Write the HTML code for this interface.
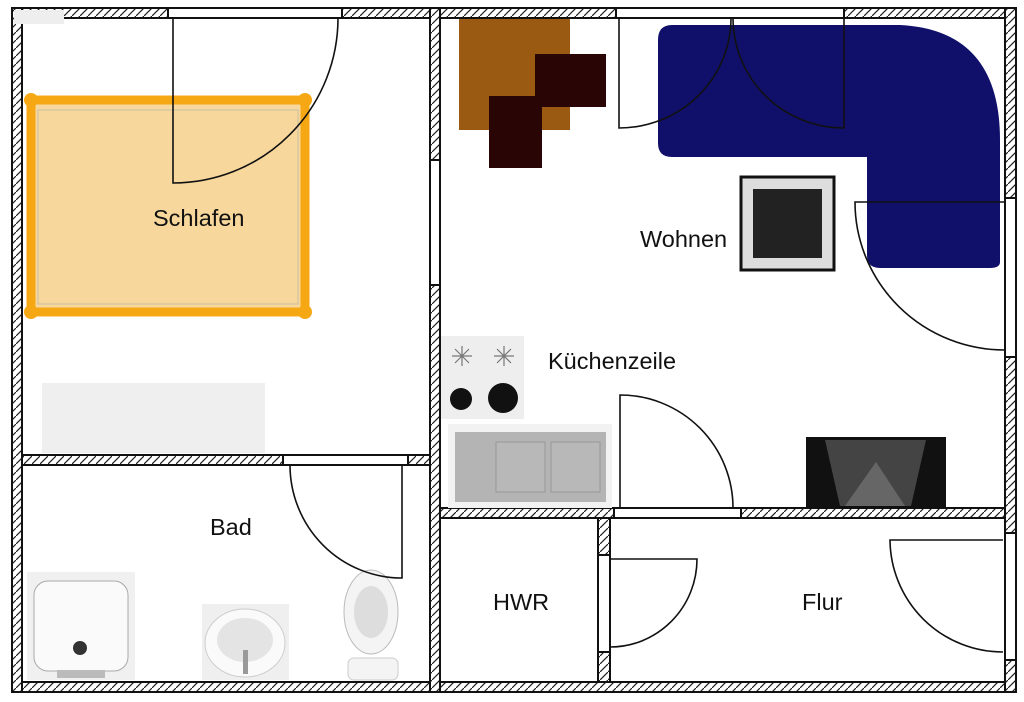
<!DOCTYPE html>
<html><head><meta charset="utf-8"><style>
html,body{margin:0;padding:0;background:#fff;width:1024px;height:702px;overflow:hidden}
svg{display:block}
text{font-family:"Liberation Sans",sans-serif;font-size:23.5px;fill:#111}
</style></head><body>
<svg width="1024" height="702" viewBox="0 0 1024 702">
<defs>
<pattern id="h" width="8" height="8" patternUnits="userSpaceOnUse">
<rect width="8" height="8" fill="#fff"/>
<line x1="0" y1="8" x2="8" y2="0" stroke="#222" stroke-width="1.2"/>
</pattern>
</defs>
<g stroke="#111" stroke-width="2" fill="url(#h)">
<rect x="12" y="8" width="1004" height="10"/>
<rect x="12" y="682" width="1004" height="10"/>
<rect x="12" y="8" width="10" height="684"/>
<rect x="1005" y="8" width="11" height="190"/>
<rect x="1005" y="357" width="11" height="176"/>
<rect x="1005" y="660" width="11" height="32"/>
<rect x="430" y="8" width="10" height="152"/>
<rect x="430" y="285" width="10" height="407"/>
<rect x="22" y="455" width="261" height="10"/>
<rect x="408" y="455" width="22" height="10"/>
<rect x="440" y="508" width="174" height="10"/>
<rect x="741" y="508" width="264" height="10"/>
<rect x="598" y="518" width="12" height="37"/>
<rect x="598" y="652" width="12" height="30"/>
</g>
<g fill="#fff" stroke="#111" stroke-width="2">
<rect x="168" y="8" width="174" height="10"/>
<rect x="616" y="8" width="228" height="10"/>
<rect x="430" y="160" width="10" height="125"/>
<rect x="283" y="455" width="125" height="10"/>
<rect x="614" y="508" width="127" height="10"/>
<rect x="598" y="555" width="12" height="97"/>
<rect x="1005" y="198" width="11" height="159"/>
<rect x="1005" y="533" width="11" height="127"/>
</g>
<rect x="14" y="10" width="50" height="14" fill="#eee"/>
<rect x="31" y="100" width="274" height="212" fill="#f7d79c" stroke="#f5a814" stroke-width="9"/>
<rect x="38" y="110" width="260" height="194" fill="none" stroke="#d8c7a0" stroke-width="1.5"/>
<circle cx="31" cy="100" r="7" fill="#f5a814"/><circle cx="305" cy="100" r="7" fill="#f5a814"/>
<circle cx="31" cy="312" r="7" fill="#f5a814"/><circle cx="305" cy="312" r="7" fill="#f5a814"/>
<rect x="42" y="383" width="223" height="70" fill="#efefef"/>
<rect x="459" y="19" width="111" height="111" fill="#9a5a12"/>
<rect x="535" y="54" width="71" height="53" fill="#2a0505"/>
<rect x="489" y="96" width="53" height="72" fill="#2a0505"/>
<path d="M672 25 H900 Q1000 30 1000 140 V262 Q1000 268 990 268 H880 Q867 268 867 255 V157 H672 Q658 157 658 143 V40 Q658 25 672 25Z" fill="#10106a"/>
<rect x="741" y="177" width="93" height="93" fill="#ddd" stroke="#111" stroke-width="3"/>
<rect x="753" y="189" width="69" height="69" fill="#222"/>
<rect x="441" y="336" width="83" height="83" fill="#eee"/>
<g stroke="#777" stroke-width="1.2"><path d="M452 356h20M462 346v20M455 349l14 14M469 349l-14 14M494 356h20M504 346v20M497 349l14 14M511 349l-14 14"/></g>
<circle cx="461" cy="399" r="11" fill="#111"/><circle cx="503" cy="398" r="15" fill="#111"/>
<rect x="448" y="424" width="164" height="84" fill="#f2f2f2"/>
<rect x="455" y="432" width="151" height="70" fill="#b4b4b4"/>
<rect x="496" y="442" width="49" height="50" fill="#b8b8b8" stroke="#999"/>
<rect x="551" y="442" width="49" height="50" fill="#b8b8b8" stroke="#999"/>
<rect x="806" y="437" width="140" height="71" fill="#111"/>
<path d="M825 440 H926 L911 506 H840Z" fill="#444"/>
<path d="M876 462 L905 506 H845Z" fill="#666"/>
<rect x="27" y="572" width="108" height="108" fill="#f0f0f0"/>
<rect x="34" y="581" width="94" height="90" rx="14" fill="#fafafa" stroke="#aaa"/>
<circle cx="80" cy="648" r="7" fill="#333"/>
<rect x="57" y="670" width="48" height="8" fill="#bbb"/>
<rect x="202" y="604" width="87" height="76" fill="#efefef"/>
<ellipse cx="245" cy="643" rx="40" ry="34" fill="#fafafa" stroke="#ccc"/>
<ellipse cx="245" cy="640" rx="28" ry="22" fill="#e4e4e4"/>
<rect x="243" y="650" width="5" height="24" fill="#999"/>
<ellipse cx="371" cy="612" rx="27" ry="42" fill="#f4f4f4" stroke="#bbb"/>
<ellipse cx="371" cy="612" rx="17" ry="26" fill="#ddd"/>
<rect x="348" y="658" width="50" height="22" rx="6" fill="#f4f4f4" stroke="#ccc"/>
<g fill="none" stroke="#111" stroke-width="1.6">
<path d="M173 18 V183 A165 165 0 0 0 338 18"/>
<path d="M619 18 V128 A112 110 0 0 0 731 18"/>
<path d="M844 18 V128 A111 110 0 0 1 733 18"/>
<path d="M1005 202 H855 A150 148 0 0 0 1005 350"/>
<path d="M620 508 V395 A113 113 0 0 1 733 508"/>
<path d="M402 465 V578 A112 113 0 0 1 290 465"/>
<path d="M610 559 H697 A87 88 0 0 1 610 647"/>
<path d="M1003 540 H890 A113 113 0 0 0 1003 652"/>
</g>
<text x="153" y="226">Schlafen</text>
<text x="640" y="247">Wohnen</text>
<text x="548" y="369">Küchenzeile</text>
<text x="210" y="535">Bad</text>
<text x="493" y="610">HWR</text>
<text x="802" y="610">Flur</text>
</svg>
</body></html>
